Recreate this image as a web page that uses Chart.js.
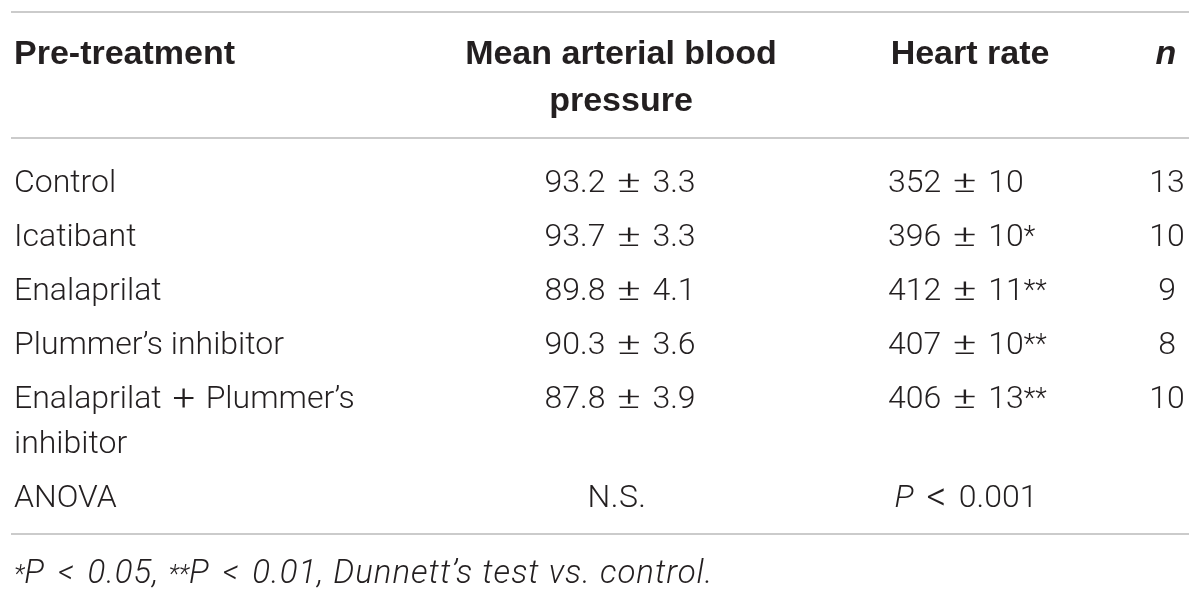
<!DOCTYPE html>
<html lang="en">
<head>
    <meta charset="UTF-8">
    <title>Pre-treatment haemodynamics</title>
    <script src="https://cdn.jsdelivr.net/npm/chart.js@4.4.1/dist/chart.umd.min.js"></script>
    <style>
        html, body { margin:0; padding:0; background:#fff; }
        canvas { display:block; }
    </style>
</head>
<body>
    <canvas id="tableChart" width="1200" height="595"></canvas>
<script>
    // table content
    const headers = ['Pre-treatment', 'Mean arterial blood pressure', 'Heart rate', 'n'];
    const treatments = ['Control', 'Icatibant', 'Enalaprilat', 'Plummer\u2019s inhibitor', 'Enalaprilat + Plummer\u2019s inhibitor'];
    const mapMean = [93.2, 93.7, 89.8, 90.3, 87.8];
    const mapSem = [3.3, 3.3, 4.1, 3.6, 3.9];
    const hrMean = [352, 396, 412, 407, 406];
    const hrSem = [10, 10, 11, 10, 13];
    const hrSig = ['', '*', '**', '**', '**'];
    const nAnimals = [13, 10, 9, 8, 10];
    const anovaRow = ['ANOVA', 'N.S.', 'P < 0.001'];
    const footnote = ['*', 'P < 0.05, ', '**', 'P < 0.01, Dunnett\u2019s test vs. control.'];

    // layout (in scale units = pixels of the 1200x595 picture)
    const colX = [14, 620, 888, 1167];
    const headX = [14, 621, 970, 1166];
    const anovaX = [14, 617, 966];
    const wrapWidth = [365, 340];
    const rules = [12, 138, 534];
    const headBase = 64, bodyBase = 192, rowPitch = 54, lineGap = 45, headGap = 47, footBase = 583;

    const ink = '#231f20';
    const family = 'Roboto, "Liberation Sans", Arial, sans-serif';
    const fBody = '300 32px ' + family;
    const fItal = 'italic 300 32px ' + family;
    const fHead = '700 34px "Liberation Sans", Arial, sans-serif';
    const fHeadIt = 'italic 700 34px "Liberation Sans", Arial, sans-serif';
    const fSup = '300 27px ' + family;
    const fFoot = 'italic 300 33px ' + family;
    const fFootSup = 'italic 300 25px ' + family;

    // math signs as typeset: ink box [w, h] and gap either side
    const symBox = { '\u00b1': [21, 19], '+': [20, 20], '<': [17, 18] };
    const symGap = { '\u00b1': 13, '+': 12, '<': 14 };

    // split a string round its math signs into drawable runs
    function mathRuns(str, font, boxScale, gapScale) {
        const k = boxScale || 1, g = gapScale || 1;
        const runs = [];
        str.split(/ ([\u00b1+<]) /).forEach((part, i) => {
            if (i % 2) runs.push({ text: part, font: font, sym: true, tw: symBox[part][0] * k, th: symBox[part][1] * k, pad: symGap[part] * g });
            else if (part) runs.push({ text: part, font: font });
        });
        return runs;
    }

    function runsWidth(ctx, runs) {
        let total = 0;
        for (const r of runs) {
            ctx.font = r.font;
            ctx.letterSpacing = (r.ls || 0) + 'px';
            const m = ctx.measureText(r.text);
            if (r.sym) {
                r.m = m;
                r.w = 2 * r.pad + r.tw;
            } else {
                r.w = m.width;
            }
            total += r.w;
        }
        ctx.letterSpacing = '0px';
        return total;
    }

    function drawRuns(ctx, runs, x, y, align) {
        const total = runsWidth(ctx, runs);
        let cx = align === 'center' ? x - total / 2 : x;
        ctx.textAlign = 'left';
        for (const r of runs) {
            ctx.font = r.font;
            ctx.letterSpacing = (r.ls || 0) + 'px';
            if (r.sym) {
                const L = r.m.actualBoundingBoxLeft, R = r.m.actualBoundingBoxRight;
                const A = r.m.actualBoundingBoxAscent, D = r.m.actualBoundingBoxDescent;
                ctx.save();
                ctx.translate(cx + r.pad, y - (A - D) / 2);
                ctx.scale(r.tw / (L + R), r.th / (A + D));
                ctx.fillText(r.text, L, (A - D) / 2);
                ctx.restore();
            } else {
                ctx.fillText(r.text, cx, y + (r.dy || 0));
            }
            cx += r.w;
        }
        ctx.letterSpacing = '0px';
    }

    // word wrap that measures with the same runs used for drawing
    function wrap(ctx, text, font, maxW) {
        const words = text.split(' ');
        const lines = [];
        let cur = '';
        for (const w of words) {
            const t = cur ? cur + ' ' + w : w;
            if (cur && !/[\u00b1+<]$/.test(cur) && runsWidth(ctx, mathRuns(t, font)) > maxW) { lines.push(cur); cur = w; }
            else cur = t;
        }
        lines.push(cur);
        return lines;
    }

    const tablePlugin = {
        id: 'tablePlugin',
        afterDraw(chart) {
            const ctx = chart.ctx;
            const xs = chart.scales.x, ys = chart.scales.y;
            const px = v => xs.getPixelForValue(v);
            const py = v => ys.getPixelForValue(v);
            ctx.save();
            ctx.fillStyle = ink;
            ctx.textBaseline = 'alphabetic';

            // horizontal rules
            ctx.strokeStyle = '#cbcbcb';
            ctx.lineWidth = 2;
            for (const r of rules) {
                ctx.beginPath();
                ctx.moveTo(px(11), py(r));
                ctx.lineTo(px(1189), py(r));
                ctx.stroke();
            }

            // header
            drawRuns(ctx, [{ text: headers[0], font: fHead }], px(headX[0]), py(headBase), 'left');
            wrap(ctx, headers[1], fHead, wrapWidth[1]).forEach((l, i) => {
                drawRuns(ctx, [{ text: l, font: fHead }], px(headX[1]), py(headBase + i * headGap), 'center');
            });
            drawRuns(ctx, [{ text: headers[2], font: fHead }], px(headX[2]), py(headBase), 'center');
            drawRuns(ctx, [{ text: headers[3], font: fHeadIt }], px(headX[3]), py(headBase), 'center');

            // body rows
            let base = bodyBase;
            treatments.forEach((name, i) => {
                const lines = wrap(ctx, name, fBody, wrapWidth[0]);
                lines.forEach((l, j) => {
                    drawRuns(ctx, mathRuns(l, fBody), px(colX[0]), py(base + j * lineGap), 'left');
                });
                drawRuns(ctx, mathRuns(mapMean[i].toFixed(1) + ' \u00b1 ' + mapSem[i].toFixed(1), fBody),
                    px(colX[1]), py(base), 'center');
                const hr = mathRuns(hrMean[i] + ' \u00b1 ' + hrSem[i], fBody);
                if (hrSig[i]) hr.push({ text: hrSig[i], font: fSup, dy: -1 });
                drawRuns(ctx, hr, px(colX[2]), py(base), 'left');
                drawRuns(ctx, [{ text: String(nAnimals[i]), font: fBody }], px(colX[3]), py(base), 'center');
                base += (lines.length - 1) * lineGap + rowPitch;
            });

            // ANOVA row
            drawRuns(ctx, [{ text: anovaRow[0], font: fBody }], px(anovaX[0]), py(base), 'left');
            drawRuns(ctx, [{ text: anovaRow[1], font: fBody, ls: 0.5 }], px(anovaX[1]), py(base), 'center');
            const pv = mathRuns(anovaRow[2], fBody);
            pv[0].font = fItal;
            drawRuns(ctx, pv, px(anovaX[2]), py(base), 'center');

            // footnote
            const foot = [{ text: footnote[0], font: fFootSup, dy: -1 }]
                .concat(mathRuns(footnote[1], fFoot, 0.85, 1))
                .concat([{ text: footnote[2], font: fFootSup, dy: -1 }])
                .concat(mathRuns(footnote[3], fFoot, 0.85, 1));
            foot.forEach(r => { if (!r.sym && r.font === fFoot) r.ls = 1.0; });
            drawRuns(ctx, foot, px(14), py(footBase), 'left');
            ctx.restore();
        }
    };

    const chart = new Chart(document.getElementById('tableChart').getContext('2d'), {
        type: 'scatter',
        data: { datasets: [] },
        options: {
            responsive: false,
            animation: false,
            events: [],
            layout: { padding: 0 },
            plugins: { legend: { display: false }, tooltip: { enabled: false } },
            scales: {
                x: { type: 'linear', min: 0, max: 1200, display: false },
                y: { type: 'linear', min: 0, max: 595, reverse: true, display: false }
            }
        },
        plugins: [tablePlugin]
    });
</script>
</body>
</html>
